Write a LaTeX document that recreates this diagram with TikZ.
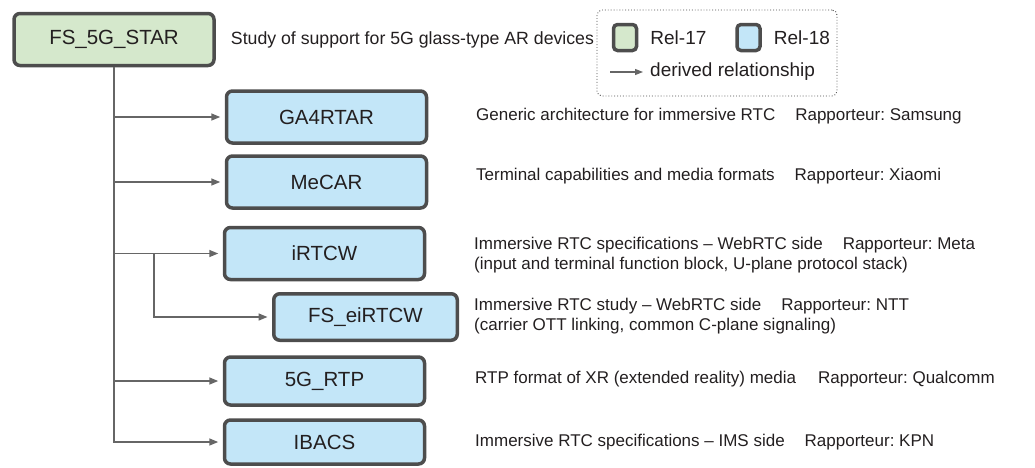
\documentclass[tikz,border=0pt]{standalone}
\usepackage{fontspec}
\setmainfont{Liberation Sans}
\usetikzlibrary{positioning, arrows.meta, calc}
\frenchspacing

\definecolor{relA}{HTML}{D5E8CC}
\definecolor{relB}{HTML}{C3E6F8}
\definecolor{rim}{HTML}{4D4D4D}
\definecolor{wire}{HTML}{666666}
\definecolor{ink}{HTML}{231F20}

\tikzset{
	spec/.style={draw=rim, line width=3.5pt, rounded corners=6pt, fill=relB, text=ink,
		minimum width=200pt, minimum height=52pt, inner sep=0pt,
		font=\fontsize{20.5}{24}\selectfont},
	study/.style={spec, fill=relA},
	link/.style={draw=wire, line width=1.5pt, -{Triangle[length=9pt,width=7pt]}, shorten >=4.5pt},
	desc/.style={anchor=west, align=left, text=ink, inner sep=0pt,
		font=\fontsize{17}{20}\selectfont},
	key/.style={draw=rim, line width=3.5pt, rounded corners=4pt, minimum width=23pt, minimum height=26pt, inner sep=0pt},
	keytext/.style={anchor=west, text=ink, inner sep=0pt, font=\fontsize{19}{22}\selectfont},
}

\begin{document}
\begin{tikzpicture}[x=1pt, y=-1pt]
	\useasboundingbox (0,0) rectangle (1035,467);

	% work items
	\node[study] (star) at (114,39.5) {FS\_5G\_STAR};
	\node[spec] (ga) at (326.5,117) {GA4RTAR};
	\node[spec] (mecar) at (326.5,182) {MeCAR};
	\node[spec] (irtcw) at (324.5,253.5) {iRTCW};
	\node[spec, minimum width=183.5pt, minimum height=46.5pt] (eirtcw) at (365.5,317) {FS\_eiRTCW};
	\node[spec, minimum height=48pt] (rtp) at (324.5,381) {5G\_RTP};
	\node[spec, minimum height=44pt] (ibacs) at (324.5,442) {IBACS};

	% descriptions
	\node[desc, right=15pt of star, font=\fontsize{17.7}{21}\selectfont] (starText) {Study of support for 5G glass-type AR devices};
	\node[desc] (gaText) at (476,116) {Generic architecture for immersive RTC\hspace{20pt}Rapporteur: Samsung};
	\node[desc] (mecarText) at (476,176) {Terminal capabilities and media formats\hspace{20pt}Rapporteur: Xiaomi};
	\node[desc] (irtcwText) at (474,255) {Immersive RTC specifications \textendash{} WebRTC side\hspace{20pt}Rapporteur: Meta\\(input and terminal function block, U-plane protocol stack)};
	\node[desc] (eirtcwText) at (474,316.5) {Immersive RTC study \textendash{} WebRTC side\hspace{20pt}Rapporteur: NTT\\(carrier OTT linking, common C-plane signaling)};
	\node[desc] (rtpText) at (475,379) {RTP format of XR (extended reality) media\hspace{22pt}Rapporteur: Qualcomm};
	\node[desc] (ibacsText) at (475,442) {Immersive RTC specifications \textendash{} IMS side\hspace{20pt}Rapporteur: KPN};

	% derivation links
	\coordinate (split) at ($(star.south |- irtcw.west)+(40,0)$);
	\draw[link] (star.south) |- (ga.west);
	\draw[link] (star.south) |- (mecar.west);
	\draw[link] (star.south) |- (irtcw.west);
	\draw[link] (star.south) |- (rtp.west);
	\draw[link] (star.south) |- (ibacs.west);
	\draw[link] (split) |- (eirtcw.west);

	% legend
	\node[draw=rim, dotted, line width=0.9pt, rounded corners=5pt, minimum width=240pt, minimum height=86pt] (legend) at (717,53) {};
	\node[key, fill=relA] (keyA) at (625,37.5) {};
	\node[keytext, right=12pt of keyA] (keyAText) {Rel-17};
	\node[key, fill=relB] (keyB) at (748.5,37.5) {};
	\node[keytext, right=12pt of keyB] (keyBText) {Rel-18};
	\coordinate (keyTail) at (610,72);
	\node[keytext] (keyLink) at (650,72) {derived relationship};
	\draw[link, line width=1.2pt, -{Triangle[length=8pt,width=6pt]}, shorten >=7pt] (keyTail) -- (keyLink.west);
\end{tikzpicture}
\end{document}
